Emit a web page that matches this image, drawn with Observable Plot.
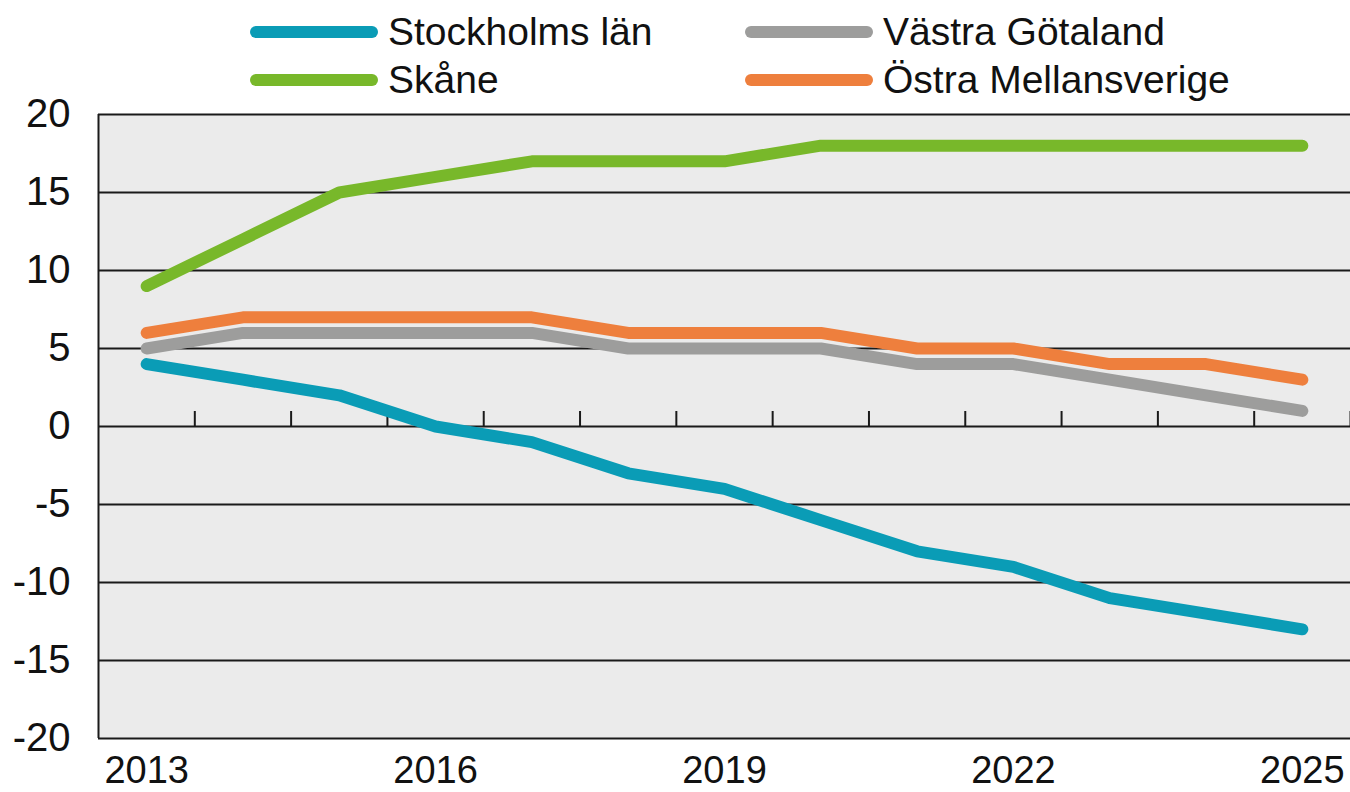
<!DOCTYPE html>
<html>
<head>
<meta charset="utf-8">
<script src="https://cdn.jsdelivr.net/npm/d3@7"></script>
<script src="https://cdn.jsdelivr.net/npm/@observablehq/plot@0.6"></script>
<style>
  html, body { margin: 0; padding: 0; background: #fff; }
  #wrap { position: relative; width: 1350px; height: 792px; overflow: hidden; font-family: "Liberation Sans", Arial, sans-serif; }
  #legend { position: relative; width: 1350px; height: 90px; }
  .item { position: absolute; display: flex; align-items: center; height: 40px; }
  .sw { width: 128px; height: 12px; border-radius: 6px; margin-right: 10px; }
  .lab { font-size: 39px; color: #111; white-space: nowrap; line-height: 40px; }
  #chart svg { display: block; }
</style>
</head>
<body>
<div id="wrap">
  <div id="legend"></div>
  <div id="chart"></div>
</div>
<script>
const years = [2013, 2014, 2015, 2016, 2017, 2018, 2019, 2020, 2021, 2022, 2023, 2024, 2025];
const seriesNames = ["Stockholms län", "Västra Götaland", "Skåne", "Östra Mellansverige"];
const stockholm = [4, 3, 2, 0, -1, -3, -4, -6, -8, -9, -11, -12, -13];
const vastraGotaland = [5, 6, 6, 6, 6, 5, 5, 5, 4, 4, 3, 2, 1];
const skane = [9, 12, 15, 16, 17, 17, 17, 18, 18, 18, 18, 18, 18];
const ostraMellansverige = [6, 7, 7, 7, 7, 6, 6, 6, 5, 5, 4, 4, 3];
const colors = ["#0a9cb6", "#9d9d9c", "#78b82a", "#ee7f3d"];
const xTickLabels = [2013, 2016, 2019, 2022, 2025];
const yTicks = [-20, -15, -10, -5, 0, 5, 10, 15, 20];

const seriesValues = [stockholm, vastraGotaland, skane, ostraMellansverige];
const rows = [];
seriesNames.forEach((name, s) => {
  years.forEach((yr, i) => rows.push({series: name, year: yr, value: seriesValues[s][i]}));
});
const boundaries = years.map(y => y + 0.5);

// Legend (HTML)
const legendPos = [
  {name: "Stockholms län", left: 250, top: 12},
  {name: "Skåne", left: 250, top: 60},
  {name: "Västra Götaland", left: 745, top: 12},
  {name: "Östra Mellansverige", left: 745, top: 60}
];
const legend = document.getElementById("legend");
legendPos.forEach(p => {
  const it = document.createElement("div");
  it.className = "item";
  it.style.left = p.left + "px";
  it.style.top = p.top + "px";
  const sw = document.createElement("div");
  sw.className = "sw";
  sw.style.background = colors[seriesNames.indexOf(p.name)];
  const lab = document.createElement("span");
  lab.className = "lab";
  lab.textContent = p.name;
  it.appendChild(sw);
  it.appendChild(lab);
  legend.appendChild(it);
});

const chart = Plot.plot({
  width: 1350,
  height: 702,
  marginTop: 24,
  marginBottom: 54,
  marginLeft: 98,
  marginRight: 0,
  style: {fontFamily: "'Liberation Sans', Arial, sans-serif", fontSize: "40px", color: "#111", background: "transparent", overflow: "visible"},
  x: {type: "linear", domain: [2012.5, 2025.5], ticks: xTickLabels, tickFormat: d => String(d), tickSize: 0, tickPadding: 18, label: null},
  y: {domain: [-20, 20], ticks: yTicks, tickFormat: d => String(d), tickSize: 0, tickPadding: 28, label: null},
  color: {domain: seriesNames, range: colors},
  marks: [
    Plot.frame({fill: "#ebebeb", stroke: null}),
    Plot.ruleY(yTicks, {stroke: "#1a1a1a", strokeWidth: 2}),
    Plot.ruleX([2012.5], {stroke: "#1a1a1a", strokeWidth: 2}),
    Plot.ruleX(boundaries, {y1: 0, y2: 0, insetTop: -15, stroke: "#1a1a1a", strokeWidth: 2}),
    Plot.line(rows, {x: "year", y: "value", z: "series", stroke: "series", strokeWidth: 12, strokeLinecap: "round", strokeLinejoin: "round"})
  ]
});
chart.querySelectorAll("g[aria-label='x-axis tick label'] text, g[aria-label='x-axis tick label']").forEach(el => el.setAttribute("font-size", "38"));
document.getElementById("chart").appendChild(chart);
</script>
</body>
</html>
